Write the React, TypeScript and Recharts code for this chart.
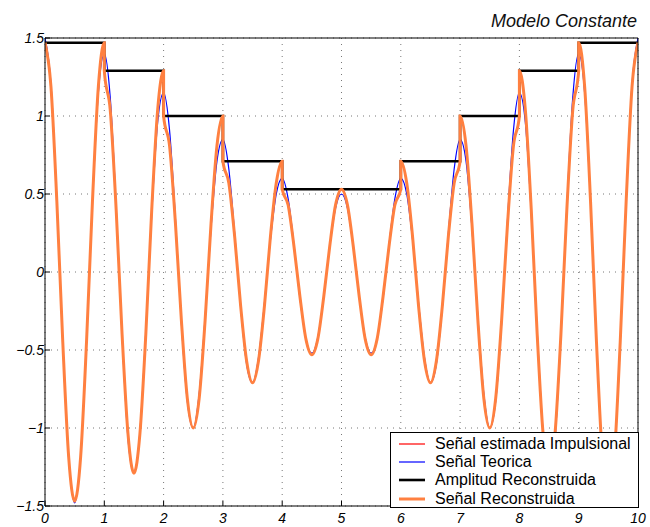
import { LineChart, Line, XAxis, YAxis, CartesianGrid, Legend } from 'recharts';

// sample instants (s), 0.1 apart
const sampleTime = [
  0, 0.1, 0.2, 0.3, 0.4, 0.5, 0.6, 0.7, 0.8, 0.9,
  1, 1.1, 1.2, 1.3, 1.4, 1.5, 1.6, 1.7, 1.8, 1.9,
  2, 2.1, 2.2, 2.3, 2.4, 2.5, 2.6, 2.7, 2.8, 2.9,
  3, 3.1, 3.2, 3.3, 3.4, 3.5, 3.6, 3.7, 3.8, 3.9,
  4, 4.1, 4.2, 4.3, 4.4, 4.5, 4.6, 4.7, 4.8, 4.9,
  5, 5.1, 5.2, 5.3, 5.4, 5.5, 5.6, 5.7, 5.8, 5.9,
  6, 6.1, 6.2, 6.3, 6.4, 6.5, 6.6, 6.7, 6.8, 6.9,
  7, 7.1, 7.2, 7.3, 7.4, 7.5, 7.6, 7.7, 7.8, 7.9,
  8, 8.1, 8.2, 8.3, 8.4, 8.5, 8.6, 8.7, 8.8, 8.9,
  9, 9.1, 9.2, 9.3, 9.4, 9.5, 9.6, 9.7, 9.8, 9.9,
  10,
];

// theoretical AM signal
const theoretical = [
  1.5, 1.21, 0.46, -0.46, -1.2, -1.48, -1.19, -0.45, 0.44, 1.15,
  1.4, 1.12, 0.42, -0.41, -1.07, -1.29, -1.03, -0.38, 0.37, 0.96,
  1.15, 0.91, 0.34, -0.33, -0.83, -1.0, -0.78, -0.29, 0.28, 0.71,
  0.85, 0.66, 0.24, -0.23, -0.59, -0.71, -0.55, -0.2, 0.2, 0.5,
  0.6, 0.47, 0.17, -0.17, -0.43, -0.52, -0.42, -0.16, 0.16, 0.41,
  0.5, 0.41, 0.16, -0.16, -0.42, -0.52, -0.43, -0.17, 0.17, 0.47,
  0.6, 0.5, 0.2, -0.2, -0.55, -0.71, -0.59, -0.23, 0.24, 0.66,
  0.85, 0.71, 0.28, -0.29, -0.78, -1.0, -0.83, -0.33, 0.34, 0.91,
  1.15, 0.96, 0.37, -0.38, -1.03, -1.29, -1.07, -0.41, 0.42, 1.12,
  1.4, 1.15, 0.44, -0.45, -1.19, -1.48, -1.2, -0.46, 0.46, 1.21,
  1.5,
];

// reconstructed signal (value at each instant, taken from the right)
const reconstructed = [
  1.47, 1.19, 0.45, -0.45, -1.19, -1.47, -1.19, -0.45, 0.45, 1.19,
  1.29, 1.04, 0.4, -0.4, -1.04, -1.29, -1.04, -0.4, 0.4, 1.04,
  1.0, 0.81, 0.31, -0.31, -0.81, -1.0, -0.81, -0.31, 0.31, 0.81,
  0.71, 0.57, 0.22, -0.22, -0.57, -0.71, -0.57, -0.22, 0.22, 0.57,
  0.53, 0.43, 0.16, -0.16, -0.43, -0.53, -0.43, -0.16, 0.16, 0.43,
  0.53, 0.43, 0.16, -0.16, -0.43, -0.53, -0.43, -0.16, 0.16, 0.43,
  0.71, 0.57, 0.22, -0.22, -0.57, -0.71, -0.57, -0.22, 0.22, 0.57,
  1.0, 0.81, 0.31, -0.31, -0.81, -1.0, -0.81, -0.31, 0.31, 0.81,
  1.29, 1.04, 0.4, -0.4, -1.04, -1.29, -1.04, -0.4, 0.4, 1.04,
  1.47, 1.19, 0.45, -0.45, -1.19, -1.47, -1.19, -0.45, 0.45, 1.19,
  1.47,
];

// reconstructed value at t = 1..9 approached from the left (before the jump)
const reconLeft = [1.47, 1.29, 1.0, 0.71, 0.53, 0.53, 0.71, 1.0, 1.29];

// one amplitude per 1 s interval
const amplitudeTime = [0, 1, 2, 3, 4, 5, 6, 7, 8, 9, 10];
const amplitudes = [1.47, 1.29, 1.0, 0.71, 0.53, 0.53, 0.71, 1.0, 1.29, 1.47];

const xTicks = [0, 1, 2, 3, 4, 5, 6, 7, 8, 9, 10];
const yTicks = [-1.5, -1, -0.5, 0, 0.5, 1, 1.5];

const seriesNames = [
  'Señal estimada Impulsional',
  'Señal Teorica',
  'Amplitud Reconstruida',
  'Señal Reconstruida',
];

const theoData = sampleTime.map((t, i) => ({ t, v: theoretical[i] }));

const reconData: { t: number; v: number }[] = [];
sampleTime.forEach((t, i) => {
  if (Number.isInteger(t) && t > 0 && t < 10) reconData.push({ t, v: reconLeft[t - 1] });
  reconData.push({ t, v: reconstructed[i] });
});

const ampData = amplitudeTime.map((t, i) => ({
  t,
  v: amplitudes[Math.min(i, amplitudes.length - 1)],
}));

const FONT = '"Liberation Sans", Arial, Helvetica, sans-serif';
const tickStyle = { fill: '#000', fontSize: 14, fontStyle: 'italic', fontFamily: FONT };

const fmtY = (v: number) => (v < 0 ? '\u2212' + Math.abs(v) : String(v));

const legendWidths = [1.2, 1.2, 2.6, 3];

const renderLegend = (props: any) => {
  const payload = [...(props.payload || [])].sort(
    (a: any, b: any) => seriesNames.indexOf(a.value) - seriesNames.indexOf(b.value)
  );
  return (
    <div
      style={{
        width: 249,
        height: 76,
        boxSizing: 'border-box',
        border: '1px solid #000',
        background: '#fff',
        padding: '1.5px 0 0 8px',
        fontFamily: FONT,
        fontSize: 16,
        color: '#000',
      }}
    >
      {payload.map((entry: any) => (
        <div key={entry.value} style={{ display: 'flex', alignItems: 'center', height: 18.3 }}>
          <svg width={26} height={6}>
            <line
              x1={0}
              y1={3}
              x2={26}
              y2={3}
              stroke={entry.color}
              strokeWidth={legendWidths[seriesNames.indexOf(entry.value)] || 1}
            />
          </svg>
          <span style={{ marginLeft: 10, whiteSpace: 'nowrap', lineHeight: '18px' }}>{entry.value}</span>
        </div>
      ))}
    </div>
  );
};

export default function App() {
  return (
    <div style={{ position: 'absolute', left: 0, top: 0, width: 650, height: 527, background: '#fff', fontFamily: FONT }}>
      <style>{`.recharts-cartesian-axis-tick-value { font-style: italic; }`}</style>
      <div
        style={{
          position: 'absolute',
          right: 13,
          top: 12,
          fontSize: 18,
          lineHeight: 1,
          fontStyle: 'italic',
          color: '#111',
          zIndex: 2,
        }}
      >
        Modelo Constante
      </div>
      <LineChart width={650} height={527} margin={{ top: 8, right: 0, bottom: 0, left: 0 }}>
        <CartesianGrid stroke="#777" strokeDasharray="1 5" />
        <XAxis
          dataKey="t"
          type="number"
          domain={[0, 10]}
          ticks={xTicks}
          height={21}
          stroke="#000"
          tickSize={-5}
          tickMargin={12}
          tick={tickStyle}
          allowDataOverflow
        />
        <XAxis
          xAxisId="top"
          orientation="top"
          dataKey="t"
          type="number"
          domain={[0, 10]}
          ticks={xTicks}
          height={30}
          stroke="#000"
          tickSize={-5}
          tick={false}
          allowDataOverflow
        />
        <YAxis
          type="number"
          domain={[-1.5, 1.5]}
          ticks={yTicks}
          width={45}
          stroke="#000"
          tickSize={-5}
          tickMargin={6}
          tick={tickStyle}
          tickFormatter={fmtY}
          allowDataOverflow
        />
        <YAxis
          yAxisId="right"
          orientation="right"
          type="number"
          domain={[-1.5, 1.5]}
          ticks={yTicks}
          width={12}
          stroke="#000"
          tickSize={-5}
          tick={false}
          allowDataOverflow
        />
        <Line
          data={reconData}
          dataKey="v"
          name={seriesNames[0]}
          type="monotone"
          stroke="#ff0000"
          strokeWidth={1}
          dot={false}
          isAnimationActive={false}
        />
        <Line
          data={theoData}
          dataKey="v"
          name={seriesNames[1]}
          type="monotone"
          stroke="#0000ff"
          strokeWidth={1.2}
          dot={false}
          isAnimationActive={false}
        />
        <Line
          data={ampData}
          dataKey="v"
          name={seriesNames[2]}
          type="stepAfter"
          stroke="#000000"
          strokeWidth={2.6}
          dot={false}
          isAnimationActive={false}
        />
        <Line
          data={reconData}
          dataKey="v"
          name={seriesNames[3]}
          type="monotone"
          stroke="#ff8040"
          strokeWidth={3}
          dot={false}
          isAnimationActive={false}
        />
        <Legend
          layout="horizontal"
          verticalAlign="middle"
          align="center"
          wrapperStyle={{ left: 390, top: 432, width: 249, height: 76 }}
          content={renderLegend}
        />
      </LineChart>
    </div>
  );
}
